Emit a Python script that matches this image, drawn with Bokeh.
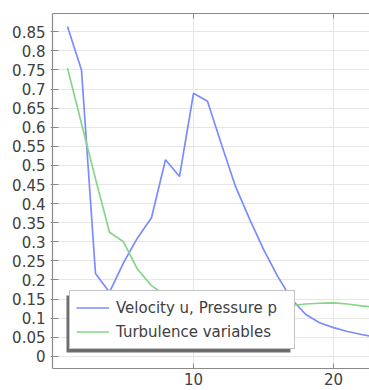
from bokeh.plotting import figure
from bokeh.models import (Range1d, FixedTicker, LinearAxis, Legend, LegendItem,
                          BoxAnnotation)
from bokeh.embed import file_html
from bokeh.resources import INLINE

x_vals = list(range(1, 24))
velocity = [0.864, 0.75, 0.217, 0.168, 0.245, 0.31, 0.363, 0.515, 0.471, 0.689,
            0.668, 0.555, 0.445, 0.36, 0.28, 0.21, 0.15, 0.11, 0.088, 0.075,
            0.065, 0.057, 0.05]
turbulence = [0.755, 0.61, 0.465, 0.325, 0.30, 0.228, 0.185, 0.16, 0.145, 0.135,
              0.13, 0.128, 0.127, 0.127, 0.128, 0.13, 0.133, 0.137, 0.139, 0.14,
              0.137, 0.132, 0.128]
series_names = ["Velocity u, Pressure p", "Turbulence variables"]
y_ticks = [0, 0.05, 0.1, 0.15, 0.2, 0.25, 0.3, 0.35, 0.4, 0.45, 0.5, 0.55, 0.6,
           0.65, 0.7, 0.75, 0.8, 0.85]
y_tick_labels = ["0", "0.05", "0.1", "0.15", "0.2", "0.25", "0.3", "0.35", "0.4",
                 "0.45", "0.5", "0.55", "0.6", "0.65", "0.7", "0.75", "0.8", "0.85"]
x_ticks = [10, 20]
x_tick_labels = ["10", "20"]

X0, X1 = -0.07, 22.57
Y0, Y1 = -0.032, 0.898
W, H = 369, 390
BL, BR, BT, BB = 52, 0, 13, 22

p = figure(width=W, height=H, output_backend="svg", toolbar_location=None,
           x_range=Range1d(X0, X1), y_range=Range1d(Y0, Y1),
           min_border_left=BL, min_border_right=BR, min_border_top=BT,
           min_border_bottom=BB, background_fill_color="white",
           border_fill_color="white")

p.outline_line_color = None

font = "DejaVu Sans"
for ax in p.xaxis:
    ax.ticker = FixedTicker(ticks=x_ticks)
    ax.major_label_overrides = {t: l for t, l in zip(x_ticks, x_tick_labels)}
    ax.major_tick_in = 5
    ax.major_tick_out = 0
    ax.minor_tick_line_color = None
    ax.axis_line_color = "#8a8a8a"
    ax.axis_line_width = 1.2
    ax.major_tick_line_color = "#8a8a8a"
    ax.major_label_text_font = font
    ax.major_label_text_font_size = "15px"
    ax.major_label_text_color = "#404040"
    ax.major_label_standoff = 4
for ax in p.yaxis:
    ax.ticker = FixedTicker(ticks=y_ticks)
    ax.major_label_overrides = {t: l for t, l in zip(y_ticks, y_tick_labels)}
    ax.major_tick_in = 6
    ax.major_tick_out = 2
    ax.minor_tick_line_color = None
    ax.axis_line_color = "#8a8a8a"
    ax.axis_line_width = 1.2
    ax.major_tick_line_color = "#8a8a8a"
    ax.major_label_text_font = font
    ax.major_label_text_font_size = "15px"
    ax.major_label_text_color = "#404040"
    ax.major_label_standoff = 5

top = LinearAxis(ticker=FixedTicker(ticks=x_ticks),
                 major_label_overrides={t: "" for t in x_ticks},
                 major_tick_in=5, major_tick_out=0, minor_tick_line_color=None,
                 axis_line_color="#8a8a8a", axis_line_width=1.2,
                 major_tick_line_color="#8a8a8a",
                 major_label_standoff=0, major_label_text_font_size="1px")
p.add_layout(top, "above")

p.xgrid.ticker = FixedTicker(ticks=x_ticks)
p.ygrid.ticker = FixedTicker(ticks=y_ticks)
p.xgrid.grid_line_color = "#e6e6e6"
p.ygrid.grid_line_color = "#e6e6e6"

r1 = p.line(x_vals, velocity, line_color="#7a8cff", line_width=1.7)
r2 = p.line(x_vals, turbulence, line_color="#86d686", line_width=1.7)

# legend geometry in frame pixels
fw = W - BL - BR
fh = H - BT - BB
sx = fw / (X1 - X0)
sy = fh / (Y1 - Y0)
lg_left, lg_bottom, lg_w, lg_h = 17, 19, 224, 57
def px2x(px):
    return X0 + px / sx
def px2y(py):
    return Y0 + py / sy

shadow = BoxAnnotation(left=px2x(lg_left - 3), right=px2x(lg_left + lg_w - 3),
                       bottom=px2y(lg_bottom - 3), top=px2y(lg_bottom + lg_h - 3),
                       fill_color="#555555", fill_alpha=0.85, line_color=None,
                       level="glyph")
p.add_layout(shadow)

legend = Legend(items=[LegendItem(label=series_names[0], renderers=[r1]),
                       LegendItem(label=series_names[1], renderers=[r2])],
                location=(lg_left, lg_bottom), label_text_font=font,
                label_text_font_size="15px", label_text_color="#404040",
                glyph_width=33, glyph_height=21, label_height=21, spacing=3,
                padding=6, margin=0, label_standoff=7, label_width=172,
                border_line_color="#888888", border_line_width=1,
                background_fill_color="white", background_fill_alpha=1.0)
p.add_layout(legend, "center")

open("out.html", "w").write(file_html(p, INLINE))
